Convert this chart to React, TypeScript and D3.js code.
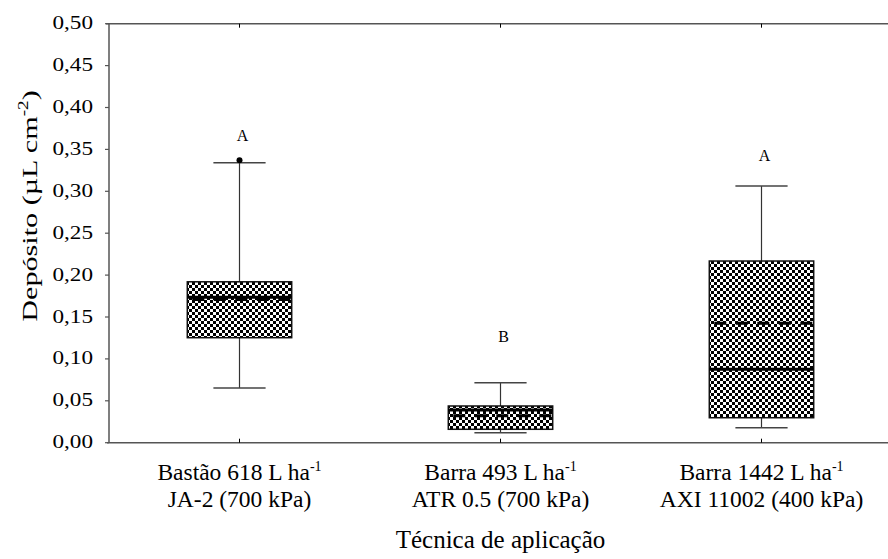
import React from 'react';
import * as d3 from 'd3';

// categories (two-line labels, line 1 ends with a superscript)
const catLine1 = ['Bastão 618 L ha', 'Barra 493 L ha', 'Barra 1442 L ha'];
const catLine2 = ['JA-2 (700 kPa)', 'ATR 0.5 (700 kPa)', 'AXI 11002 (400 kPa)'];

// box statistics
const whiskerLow = [0.0653, 0.0119, 0.0179];
const boxLow = [0.1253, 0.016, 0.0298];
const medians = [0.1735, 0.039, 0.0876];
const means = [0.171, 0.0322, 0.1425];
const boxHigh = [0.192, 0.0438, 0.2168];
const whiskerHigh = [0.334, 0.0716, 0.3063];
const outliers = [[0.337], [], []];

// significance letters and the value where they sit
const letters = ['A', 'B', 'A'];
const letterValues = [0.36, 0.12, 0.3365];

const yTicks = [0, 0.05, 0.1, 0.15, 0.2, 0.25, 0.3, 0.35, 0.4, 0.45, 0.5];

const W = 888;
const H = 559;
const serif = 'Liberation Serif';

export default function App() {
  const left = 109;
  const top = 23.7;
  const bottom = 442.7;
  const right = left + 3 * 261;

  const x = d3.scaleBand<number>().domain([0, 1, 2]).range([left, right]).padding(0);
  const y = d3.scaleLinear().domain([0, 0.5]).range([bottom, top]);
  const fmt = (v: number) => d3.format('.2f')(v).replace('.', ',');

  const bw = x.bandwidth() * 0.4;
  const capW = bw / 2;
  const axisColor = '#555';
  const tf = { fontFamily: serif };

  return (
    <svg width={W} height={H} style={{ position: 'absolute', left: 0, top: 0, background: '#fff' }}>
      <defs>
        <pattern id="check" width={6} height={6} patternUnits="userSpaceOnUse">
          <rect width={6} height={6} fill="#fff" />
          <rect width={3} height={3} fill="#000" />
          <rect x={3} y={3} width={3} height={3} fill="#000" />
        </pattern>
      </defs>

      {/* frame */}
      <line x1={left} x2={left} y1={top} y2={bottom} stroke={axisColor} strokeWidth={1.5} />
      <line x1={left - 3} x2={W} y1={top} y2={top} stroke={axisColor} strokeWidth={1.5} />
      <line x1={left - 2} x2={W} y1={bottom} y2={bottom} stroke={axisColor} strokeWidth={1.5} />
      <line x1={right} x2={right} y1={top} y2={bottom} stroke={axisColor} strokeWidth={1.5} />

      {/* y ticks + labels */}
      {yTicks.map(t => (
        <g key={t}>
          <line x1={left - 4} x2={left} y1={y(t)} y2={y(t)} stroke={axisColor} strokeWidth={1.2} />
          <text
            transform={`translate(${left - 16},${y(t) + 5.5}) scale(1.22,1)`}
            textAnchor="end"
            style={tf}
            fontSize={19}
            fill="#000"
          >
            {fmt(t)}
          </text>
        </g>
      ))}

      {/* category ticks, inward on top and bottom */}
      {[0, 1, 2].map(i => {
        const cx = x(i)! + x.bandwidth() / 2;
        return (
          <g key={'ct' + i}>
            <line x1={cx} x2={cx} y1={bottom} y2={bottom - 4} stroke="#000" strokeWidth={1} />
            <line x1={cx} x2={cx} y1={top} y2={top + 4} stroke="#000" strokeWidth={1} />
          </g>
        );
      })}

      {/* boxes */}
      {[0, 1, 2].map(i => {
        const cx = x(i)! + x.bandwidth() / 2;
        const x0 = cx - bw / 2;
        return (
          <g key={'b' + i}>
            <line x1={cx} x2={cx} y1={y(boxHigh[i])} y2={y(whiskerHigh[i])} stroke="#333" strokeWidth={1.2} />
            <line x1={cx} x2={cx} y1={y(boxLow[i])} y2={y(whiskerLow[i])} stroke="#333" strokeWidth={1.2} />
            <line x1={cx - capW / 2} x2={cx + capW / 2} y1={y(whiskerHigh[i])} y2={y(whiskerHigh[i])} stroke="#444" strokeWidth={1.5} />
            <line x1={cx - capW / 2} x2={cx + capW / 2} y1={y(whiskerLow[i])} y2={y(whiskerLow[i])} stroke="#444" strokeWidth={1.5} />
            <rect
              x={x0}
              y={y(boxHigh[i])}
              width={bw}
              height={y(boxLow[i]) - y(boxHigh[i])}
              fill="url(#check)"
              stroke="#111"
              strokeWidth={1.5}
            />
            <line x1={x0} x2={x0 + bw} y1={y(medians[i])} y2={y(medians[i])} stroke="#000" strokeWidth={3} />
            <line
              x1={x0}
              x2={x0 + bw}
              y1={y(means[i])}
              y2={y(means[i])}
              stroke="#000"
              strokeWidth={3}
              strokeDasharray="12,9.5"
              strokeDashoffset={-5}
            />
            {outliers[i].map((o, j) => (
              <circle key={j} cx={cx} cy={y(o)} r={3} fill="#000" />
            ))}
            <text x={cx + 3} y={y(letterValues[i])} textAnchor="middle" style={tf} fontSize={16} fill="#000">
              {letters[i]}
            </text>
          </g>
        );
      })}

      {/* category labels */}
      {[0, 1, 2].map(i => {
        const cx = x(i)! + x.bandwidth() / 2;
        return (
          <g key={'cl' + i} style={tf} fill="#000" textAnchor="middle">
            <text x={cx} y={480} fontSize={23.5}>
              {catLine1[i]}
              <tspan dy={-9} fontSize={14}>-1</tspan>
            </text>
            <text x={cx} y={507} fontSize={23.5}>
              {catLine2[i]}
            </text>
          </g>
        );
      })}

      {/* axis titles */}
      <text x={(left + right) / 2} y={548} textAnchor="middle" style={tf} fontSize={25} fill="#000">
        Técnica de aplicação
      </text>
      <text
        transform={`translate(37,206) rotate(-90) scale(1.37,1)`}
        textAnchor="middle"
        style={tf}
        fontSize={22}
        fill="#000"
      >
        Depósito (µL cm
        <tspan dy={-9} fontSize={14}>-2</tspan>
        <tspan dy={9}>)</tspan>
      </text>
    </svg>
  );
}
